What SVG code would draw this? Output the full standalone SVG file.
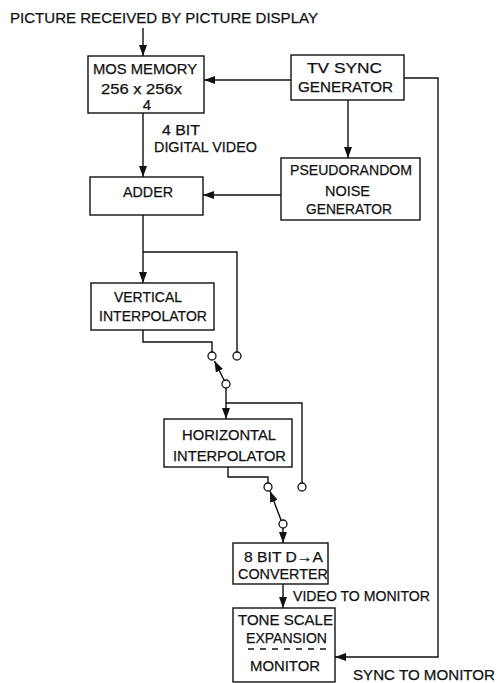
<svg xmlns="http://www.w3.org/2000/svg" width="499" height="683" viewBox="0 0 499 683">
<style>
  .box { fill: #fff; stroke: #111; stroke-width: 1.4; }
  .ln { fill: none; stroke: #111; stroke-width: 1.4; }
  .arr { fill: none; stroke: #111; stroke-width: 1.4; marker-end: url(#ah); }
  .term { fill: #fff; stroke: #111; stroke-width: 1.3; }
  text { font-family: "Liberation Sans", Arial, sans-serif; font-size: 15px; fill: #111; stroke: #111; stroke-width: 0.25; }
  .c { text-anchor: middle; }
</style>
<defs>
  <marker id="ah" markerUnits="userSpaceOnUse" markerWidth="11" markerHeight="8" refX="11" refY="4" orient="auto">
    <path d="M0,0 L11,4 L0,8 z" fill="#111"/>
  </marker>
</defs>
<rect width="499" height="683" fill="#fff"/>

<text x="10" y="23" textLength="308" lengthAdjust="spacingAndGlyphs">PICTURE RECEIVED BY PICTURE DISPLAY</text>

<g id="connectors">
  <path class="arr" d="M143,28 V56"/>
  <path class="arr" d="M291,80 H204"/>
  <path class="arr" d="M348,100 V158"/>
  <path class="arr" d="M143,113 V177"/>
  <path class="arr" d="M281,195 H203"/>
  <path class="arr" d="M143,215 V283"/>
  <path class="ln" d="M143,252 H237 V352"/>
  <path class="ln" d="M143,330 V342 H212 V352"/>
  <path class="arr" d="M224,380 L214.5,361"/>
  <path class="arr" d="M226,388 V419"/>
  <path class="ln" d="M226,403 H302 V483"/>
  <path class="ln" d="M228,467 V477 H268 V483"/>
  <path class="arr" d="M281,520 L270,491"/>
  <path class="arr" d="M283,528 V543"/>
  <path class="arr" d="M283,584 V608"/>
  <path class="arr" d="M404,78 H438 V657 H335"/>
  <circle class="term" cx="237" cy="356" r="4"/>
  <circle class="term" cx="212" cy="356" r="4"/>
  <circle class="term" cx="226" cy="384" r="4"/>
  <circle class="term" cx="302" cy="487" r="4"/>
  <circle class="term" cx="268" cy="487" r="4"/>
  <circle class="term" cx="283" cy="524" r="4"/>
  <text x="162" y="135" textLength="38" lengthAdjust="spacingAndGlyphs">4 BIT</text>
  <text x="154" y="152" textLength="103" lengthAdjust="spacingAndGlyphs">DIGITAL VIDEO</text>
  <text x="293" y="601" textLength="137" lengthAdjust="spacingAndGlyphs">VIDEO TO MONITOR</text>
  <text x="353" y="680" textLength="142" lengthAdjust="spacingAndGlyphs">SYNC TO MONITOR</text>
</g>

<g id="mos-memory">
  <rect class="box" x="88" y="56" width="116" height="57"/>
  <text x="93" y="74" textLength="104" lengthAdjust="spacingAndGlyphs">MOS MEMORY</text>
  <text x="101" y="94" textLength="81" lengthAdjust="spacingAndGlyphs">256 x 256x</text>
  <text x="147" y="110" class="c">4</text>
</g>

<g id="tv-sync">
  <rect class="box" x="291" y="55" width="113" height="45"/>
  <text x="307" y="73" textLength="75" lengthAdjust="spacingAndGlyphs">TV SYNC</text>
  <text x="298" y="92" textLength="95" lengthAdjust="spacingAndGlyphs">GENERATOR</text>
</g>

<g id="pseudorandom">
  <rect class="box" x="281" y="158" width="139" height="62"/>
  <text x="290" y="175" textLength="122" lengthAdjust="spacingAndGlyphs">PSEUDORANDOM</text>
  <text x="325" y="196" textLength="45" lengthAdjust="spacingAndGlyphs">NOISE</text>
  <text x="306" y="214" textLength="86" lengthAdjust="spacingAndGlyphs">GENERATOR</text>
</g>

<g id="adder">
  <rect class="box" x="90" y="177" width="113" height="38"/>
  <text x="123" y="197" textLength="50" lengthAdjust="spacingAndGlyphs">ADDER</text>
</g>

<g id="vertical-interpolator">
  <rect class="box" x="91" y="283" width="123" height="47"/>
  <text x="114" y="302" textLength="68" lengthAdjust="spacingAndGlyphs">VERTICAL</text>
  <text x="99" y="321" textLength="108" lengthAdjust="spacingAndGlyphs">INTERPOLATOR</text>
</g>

<g id="horizontal-interpolator">
  <rect class="box" x="164" y="419" width="128" height="48"/>
  <text x="182" y="440" textLength="94" lengthAdjust="spacingAndGlyphs">HORIZONTAL</text>
  <text x="173" y="461" textLength="113" lengthAdjust="spacingAndGlyphs">INTERPOLATOR</text>
</g>

<g id="da-converter">
  <rect class="box" x="233" y="543" width="95" height="41"/>
  <text x="244" y="562" textLength="79" lengthAdjust="spacingAndGlyphs">8 BIT D→A</text>
  <text x="238" y="579" textLength="90" lengthAdjust="spacingAndGlyphs">CONVERTER</text>
</g>

<g id="tone-scale-monitor">
  <rect class="box" x="233" y="608" width="102" height="74"/>
  <text x="238" y="625" textLength="95" lengthAdjust="spacingAndGlyphs">TONE SCALE</text>
  <text x="246" y="643" textLength="81" lengthAdjust="spacingAndGlyphs">EXPANSION</text>
  <line class="ln" x1="248" y1="649" x2="328" y2="649" stroke-dasharray="6,6"/>
  <text x="250" y="671" textLength="70" lengthAdjust="spacingAndGlyphs">MONITOR</text>
</g>
</svg>
